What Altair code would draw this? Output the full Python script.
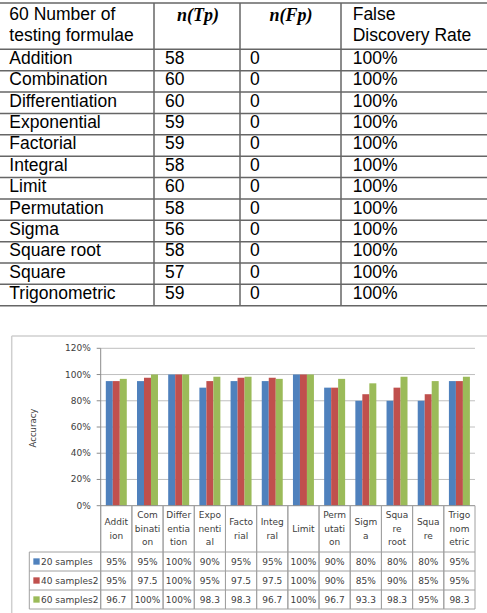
import altair as alt
import pandas as pd

# ---------------- data ----------------
categories = ["Addition", "Combination", "Differentiation", "Exponential", "Factorial",
              "Integral", "Limit", "Permutation", "Sigma", "Square root", "Square",
              "Trigonometric"]
tp_counts = [58, 60, 60, 59, 59, 58, 60, 58, 56, 58, 57, 59]
fp_counts = [0, 0, 0, 0, 0, 0, 0, 0, 0, 0, 0, 0]
fdr_labels = ["100%"] * 12

cat_wrapped = ["Addit\nion", "Com\nbinati\non", "Differ\nentia\ntion", "Expo\nnenti\nal",
               "Facto\nrial", "Integ\nral", "Limit", "Perm\nutati\non", "Sigm\na",
               "Squa\nre\nroot", "Squa\nre", "Trigo\nnom\netric"]
series_names = ["20 samples", "40 samples2", "60 samples2"]
acc_20 = [95, 95, 100, 90, 95, 95, 100, 90, 80, 80, 80, 95]
acc_40 = [95, 97.5, 100, 95, 97.5, 97.5, 100, 90, 85, 90, 85, 95]
acc_60 = [96.7, 100, 100, 98.3, 98.3, 96.7, 100, 96.7, 93.3, 98.3, 95, 98.3]
y_ticks = [0, 20, 40, 60, 80, 100, 120]
series_colors = ["#4F81BD", "#C0504D", "#9BBB59"]

# ---------------- layout constants ----------------
W, H = 487, 613
T_TOP, T_HDR_BOT, T_ROW_H = 3, 49.3, 21.37
T_BOT = T_HDR_BOT + 12 * T_ROW_H
T_COL_X = [9.3, 165, 250, 352.7]
T_VLINES = [154, 240, 341]
T_FONT = "Liberation Sans"
T_SIZE = 17.5
T_LINE = "#666666"
T_HDR_LH = 21

BOX_L, BOX_T = 11.7, 336
PL, PR = 100.7, 475
PY0, PYTOP = 505.7, 348.3
DT_TOP, DT_ROW = 552, 19
DT_BOT = DT_TOP + 3 * DT_ROW
LEG_L = 29.3
C_FONT = "DejaVu Sans"
C_SIZE = 9
C_LH = 13.5
C_TEXT = "#404040"
GRID = "#BFBFBF"
TLINE = "#A0A0A0"

one = pd.DataFrame({"a": [0]})

# ---------------- top table ----------------
row_scale = alt.Scale(domain=[0, 12], range=[T_HDR_BOT, T_BOT], nice=False, zero=False)
col_scale = alt.Scale(domain=[0, 1, 2, 3], range=T_COL_X, nice=False, zero=False)

cells = []
for i, c in enumerate(categories):
    vals = [c, str(tp_counts[i]), str(fp_counts[i]), fdr_labels[i]]
    for k, v in enumerate(vals):
        cells.append({"r": i + 0.5, "col": k, "text": v})
cells = pd.DataFrame(cells)

t_text = alt.Chart(cells).mark_text(font=T_FONT, fontSize=T_SIZE, align="left",
                                    baseline="middle", color="black", dy=-1).encode(
    x=alt.X("col:Q", scale=col_scale, axis=None),
    y=alt.Y("r:Q", scale=row_scale, axis=None),
    text="text:N")

t_hlines = alt.Chart(pd.DataFrame({"e": list(range(13))})).mark_rule(
    color=T_LINE, strokeWidth=1.5).encode(
    y=alt.Y("e:Q", scale=row_scale, axis=None), x=alt.value(0), x2=alt.value(W))
t_topline = alt.Chart(one).mark_rule(color=T_LINE, strokeWidth=1.5).encode(
    y=alt.value(T_TOP), x=alt.value(0), x2=alt.value(W))
t_vlines = alt.Chart(pd.DataFrame({"k": [1, 2, 3]})).mark_rule(
    color=T_LINE, strokeWidth=1.5).encode(
    x=alt.X("k:Q", scale=alt.Scale(domain=[1, 2, 3], range=T_VLINES, nice=False, zero=False),
            axis=None),
    y=alt.value(T_TOP), y2=alt.value(T_BOT))

hdr = pd.DataFrame({"col": [0, 3],
                    "text": ["60 Number of\ntesting formulae", "False\nDiscovery Rate"]})
t_hdr = alt.Chart(hdr).mark_text(font=T_FONT, fontSize=T_SIZE, align="left",
                                 baseline="middle", lineBreak="\n", lineHeight=T_HDR_LH,
                                 color="black").encode(
    x=alt.X("col:Q", scale=col_scale, axis=None),
    y=alt.value((T_TOP + T_HDR_BOT) / 2 - 1 - T_HDR_LH / 2),
    text="text:N")
mhdr = pd.DataFrame({"col": [1, 2], "text": ["n(Tp)", "n(Fp)"]})
t_mhdr = alt.Chart(mhdr).mark_text(font="Liberation Serif", fontSize=18, fontWeight="bold",
                                   fontStyle="italic", align="center", baseline="middle",
                                   color="black").encode(
    x=alt.X("col:Q", scale=alt.Scale(domain=[1, 2], range=[198, 291], nice=False, zero=False),
            axis=None),
    y=alt.value(16),
    text="text:N")

# ---------------- bar chart ----------------
rows = []
for s, vals in zip(series_names, [acc_20, acc_40, acc_60]):
    for c, v in zip(categories, vals):
        lab = f"{int(v)}%" if float(v).is_integer() else f"{v}"
        rows.append({"cat": c, "series": s, "value": v, "label": lab})
bars_df = pd.DataFrame(rows)

x_scale = alt.Scale(domain=categories, range=[PL, PR], paddingInner=0, paddingOuter=0)
y_scale = alt.Scale(domain=[0, 120], range=[PY0, PYTOP], nice=False)
color_scale = alt.Scale(domain=series_names, range=series_colors)

box = alt.layer(
    alt.Chart(one).mark_rule(color="#CFCFCF", strokeWidth=1.5).encode(
        y=alt.value(BOX_T), x=alt.value(BOX_L), x2=alt.value(W)),
    alt.Chart(one).mark_rule(color="#CFCFCF", strokeWidth=1.5).encode(
        x=alt.value(BOX_L), y=alt.value(BOX_T), y2=alt.value(H)),
)

grid = alt.Chart(pd.DataFrame({"t": y_ticks[1:]})).mark_rule(color=GRID, strokeWidth=1).encode(
    y=alt.Y("t:Q", scale=y_scale, axis=None), x=alt.value(PL), x2=alt.value(PR))

bars = alt.Chart(bars_df).mark_bar(stroke=None).encode(
    x=alt.X("cat:N", sort=categories, scale=x_scale, axis=None),
    xOffset=alt.XOffset("series:N", sort=series_names,
                        scale=alt.Scale(domain=series_names, paddingInner=0, paddingOuter=0.73)),
    y=alt.Y("value:Q", scale=y_scale, axis=None),
    color=alt.Color("series:N", scale=color_scale, legend=None))

baseline = alt.Chart(pd.DataFrame({"t": [0]})).mark_rule(color="#8C8C8C", strokeWidth=1).encode(
    y=alt.Y("t:Q", scale=y_scale, axis=None), x=alt.value(PL), x2=alt.value(PR))
yaxis_line = alt.Chart(one).mark_rule(color="#8C8C8C", strokeWidth=1).encode(
    x=alt.value(PL), y=alt.value(PYTOP), y2=alt.value(DT_BOT))
yticks = alt.Chart(pd.DataFrame({"t": y_ticks})).mark_rule(color="#8C8C8C", strokeWidth=1).encode(
    y=alt.Y("t:Q", scale=y_scale, axis=None), x=alt.value(PL - 4), x2=alt.value(PL))
ylabels = alt.Chart(pd.DataFrame({"t": y_ticks})).transform_calculate(
    lab="datum.t + '%'").mark_text(
    font=C_FONT, fontSize=C_SIZE, align="right", baseline="middle", color=C_TEXT).encode(
    y=alt.Y("t:Q", scale=y_scale, axis=None), x=alt.value(PL - 10), text="lab:N")
ytitle = alt.Chart(one).mark_text(font=C_FONT, fontSize=8.5, angle=270, align="center",
                                  baseline="middle", color=C_TEXT).encode(
    x=alt.value(33), y=alt.value((PYTOP + PY0) / 2 + 1), text=alt.value("Accuracy"))

# ---------------- data table under chart ----------------
dt_scale = alt.Scale(domain=[0, 3], range=[DT_TOP, DT_BOT], nice=False, zero=False)
# first-line anchor so that each wrapped label block is centred in the header row
hdr_center = (PY0 + DT_TOP) / 2
cat_df = pd.DataFrame({"cat": categories, "wrapped": cat_wrapped})
cat_df["ypos"] = [hdr_center - (w.count("\n")) * C_LH / 2 for w in cat_wrapped]
hdr_scale = alt.Scale(domain=[0, 1000], range=[0, 1000], nice=False, zero=False)

dt_vl = alt.Chart(cat_df).mark_rule(color=TLINE, strokeWidth=1).encode(
    x=alt.X("cat:N", sort=categories, scale=x_scale, axis=None, bandPosition=0),
    y=alt.value(PY0), y2=alt.value(DT_BOT))
dt_vr = alt.Chart(cat_df).mark_rule(color=TLINE, strokeWidth=1).encode(
    x=alt.X("cat:N", sort=categories, scale=x_scale, axis=None, bandPosition=1),
    y=alt.value(PY0), y2=alt.value(DT_BOT))
dt_hl = alt.Chart(pd.DataFrame({"e": [0, 1, 2, 3]})).mark_rule(color=TLINE, strokeWidth=1).encode(
    y=alt.Y("e:Q", scale=dt_scale, axis=None), x=alt.value(LEG_L), x2=alt.value(PR))
dt_left = alt.Chart(one).mark_rule(color=TLINE, strokeWidth=1).encode(
    x=alt.value(LEG_L), y=alt.value(DT_TOP), y2=alt.value(DT_BOT))

cat_text = alt.Chart(cat_df).mark_text(font=C_FONT, fontSize=C_SIZE, align="center",
                                       baseline="middle", lineBreak="\n", lineHeight=C_LH,
                                       color=C_TEXT).encode(
    x=alt.X("cat:N", sort=categories, scale=x_scale, axis=None),
    y=alt.Y("ypos:Q", scale=hdr_scale, axis=None),
    text="wrapped:N")

val_df = bars_df.copy()
val_df["r"] = val_df["series"].map({s: i + 0.5 for i, s in enumerate(series_names)})
val_text = alt.Chart(val_df).mark_text(font=C_FONT, fontSize=C_SIZE, align="center",
                                       baseline="middle", color=C_TEXT).encode(
    x=alt.X("cat:N", sort=categories, scale=x_scale, axis=None),
    y=alt.Y("r:Q", scale=dt_scale, axis=None),
    text="label:N")

leg_df = pd.DataFrame({"series": series_names, "r": [0.5, 1.5, 2.5]})
leg_sq = alt.Chart(leg_df).mark_point(shape="square", filled=True, size=40, opacity=1).encode(
    x=alt.value(36.5), y=alt.Y("r:Q", scale=dt_scale, axis=None),
    color=alt.Color("series:N", scale=color_scale, legend=None))
leg_txt = alt.Chart(leg_df).mark_text(font=C_FONT, fontSize=C_SIZE, align="left",
                                      baseline="middle", color=C_TEXT).encode(
    x=alt.value(41), y=alt.Y("r:Q", scale=dt_scale, axis=None), text="series:N")

chart = alt.layer(
    t_hlines, t_topline, t_vlines, t_text, t_hdr, t_mhdr,
    box, grid, bars, baseline, yaxis_line, yticks, ylabels, ytitle,
    dt_vl, dt_vr, dt_hl, dt_left, cat_text, val_text, leg_sq, leg_txt,
).resolve_scale(x="independent", y="independent", color="independent").properties(
    width=W, height=H, padding=0,
    autosize=alt.AutoSizeParams(type="none"),
    background="white",
).configure_view(stroke=None)

chart.save("out.html", embed_options={"renderer": "svg", "actions": False})
